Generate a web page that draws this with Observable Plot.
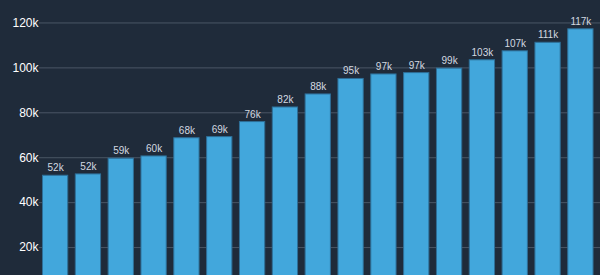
<!DOCTYPE html>
<html>
<head>
<meta charset="utf-8">
<script src="https://cdn.jsdelivr.net/npm/d3@7"></script>
<script src="https://cdn.jsdelivr.net/npm/@observablehq/plot@0.6"></script>
<style>
  html, body { margin: 0; padding: 0; background: #1f2b3a; overflow: hidden; }
  #chart { width: 600px; height: 275px; overflow: hidden; }
</style>
</head>
<body>
<div id="chart"></div>
<script>
const categories = ["1","2","3","4","5","6","7","8","9","10","11","12","13","14","15","16","17"];
const values = [52.2, 52.8, 59.8, 60.8, 68.9, 69.4, 76.1, 82.6, 88.4, 95.3, 97.3, 97.9, 99.9, 103.6, 107.6, 111.4, 117.4];
const valueLabels = ["52k","52k","59k","60k","68k","69k","76k","82k","88k","95k","97k","97k","99k","103k","107k","111k","117k"];
const yTicks = [20, 40, 60, 80, 100, 120];
const yTickLabels = ["20k","40k","60k","80k","100k","120k"];

const data = categories.map((c, i) => ({cat: c, value: values[i], label: valueLabels[i]}));

const chart = Plot.plot({
  width: 600,
  height: 292,
  marginLeft: 39,
  marginRight: 0,
  marginTop: 0,
  marginBottom: 0,
  style: {background: "#1f2b3a", fontFamily: "Liberation Sans, Arial, sans-serif", overflow: "hidden"},
  x: {domain: categories, range: [35.4, 600.1], padding: 0.2, round: false, axis: null},
  y: {domain: [0, 130], axis: null},
  marks: [
    Plot.ruleY(yTicks, {y: d => d, stroke: "#4a5665", strokeWidth: 1, strokeOpacity: 1}),
    Plot.axisY(yTicks, {
      tickSize: 0, tickPadding: 1, fill: "#ffffff", fontSize: 12,
      tickFormat: (d) => yTickLabels[yTicks.indexOf(d)], label: null
    }),
    Plot.barY(data, {x: "cat", y: "value", fill: "#42a7dc", stroke: "#2e6f98", strokeWidth: 1, inset: 0.5}),
    Plot.text(data, {x: "cat", y: "value", text: "label", lineAnchor: "bottom", dy: -4, fill: "#d3d9e0", fontSize: 10})
  ]
});
document.getElementById("chart").append(chart);
</script>
</body>
</html>
